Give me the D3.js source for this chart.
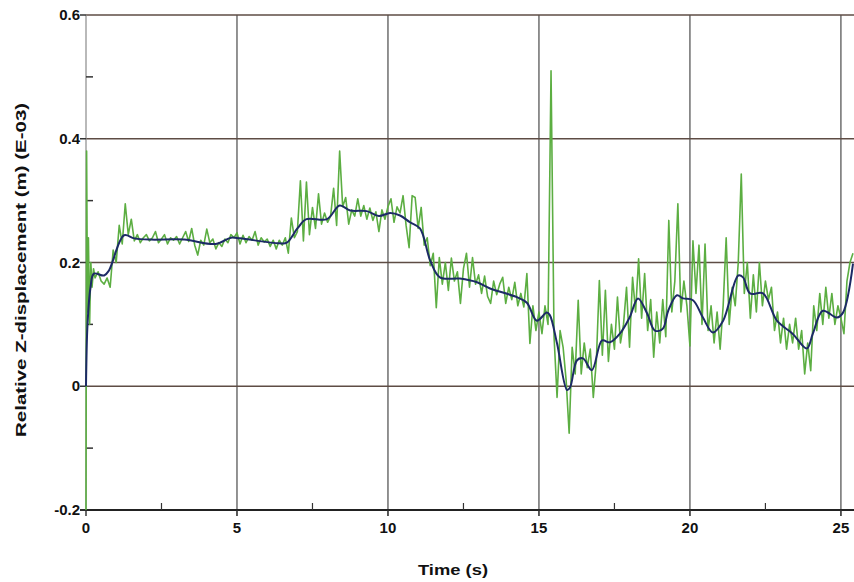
<!DOCTYPE html>
<html>
<head>
<meta charset="utf-8">
<script src="https://cdn.jsdelivr.net/npm/d3@7"></script>
<style>
  html, body { margin: 0; padding: 0; background: #fff; }
  svg { display: block; }
  text { font-family: "Liberation Sans", Arial, sans-serif; font-weight: bold; fill: #111; }
</style>
</head>
<body>
<svg id="chart" width="854" height="582"></svg>
<script>
// Time axis ticks (s) and displacement ticks (x 1E-03 m)
const xMajorTicks = [0, 5, 10, 15, 20, 25];
const xMinorTicks = [2.5, 7.5, 12.5, 17.5, 22.5];
const yMajorTicks = [0.6, 0.4, 0.2, 0, -0.2];
const yMinorTicks = [0.5, 0.3, 0.1, -0.1];
const yTickLabels = ["0.6", "0.4", "0.2", "0", "-0.2"];

// Raw signal: the first instants sampled irregularly ([t, value])
const rawHead = [[0, -0.2], [0.02, 0.38], [0.05, 0.12], [0.08, 0.24], [0.12, 0.1],
  [0.16, 0.2], [0.2, 0.16], [0.25, 0.19]];

// Raw signal from t = 0.3 s onwards, one value every 0.1 s
const rawStart = 0.3;
const rawStep = 0.1;
const rawValues = [
  0.175, 0.185, 0.17, 0.165, 0.175, 0.16, 0.22, 0.2, 0.26, 0.23,            // 0.3 - 1.2
  0.295, 0.245, 0.27, 0.235, 0.245, 0.232, 0.24, 0.245, 0.235, 0.24,        // 1.3 - 2.2
  0.25, 0.232, 0.238, 0.245, 0.23, 0.24, 0.236, 0.242, 0.23, 0.24,          // 2.3 - 3.2
  0.25, 0.234, 0.255, 0.228, 0.212, 0.236, 0.228, 0.254, 0.232, 0.238,      // 3.3 - 4.2
  0.222, 0.232, 0.226, 0.238, 0.232, 0.245, 0.24, 0.248, 0.23, 0.244,       // 4.3 - 5.2
  0.232, 0.242, 0.236, 0.25, 0.228, 0.24, 0.233, 0.238, 0.226, 0.236,       // 5.3 - 6.2
  0.222, 0.236, 0.228, 0.24, 0.215, 0.272, 0.24, 0.25, 0.332, 0.235,        // 6.3 - 7.2
  0.33, 0.245, 0.289, 0.255, 0.311, 0.262, 0.28, 0.265, 0.275, 0.32,        // 7.3 - 8.2
  0.26, 0.38, 0.29, 0.305, 0.262, 0.285, 0.275, 0.303, 0.275, 0.292,        // 8.3 - 9.2
  0.27, 0.288, 0.268, 0.282, 0.25, 0.285, 0.27, 0.29, 0.303, 0.265,         // 9.3 - 10.2
  0.29, 0.28, 0.308, 0.26, 0.224, 0.308, 0.305, 0.255, 0.289, 0.228,        // 10.3 - 11.2
  0.24, 0.195, 0.215, 0.127, 0.208, 0.165, 0.2, 0.155, 0.207, 0.17,         // 11.3 - 12.2
  0.185, 0.134, 0.19, 0.215, 0.16, 0.208, 0.165, 0.18, 0.15, 0.178,         // 12.3 - 13.2
  0.145, 0.134, 0.17, 0.148, 0.165, 0.176, 0.134, 0.16, 0.14, 0.168,        // 13.3 - 14.2
  0.13, 0.15, 0.128, 0.182, 0.069, 0.13, 0.09, 0.12, 0.085, 0.13,           // 14.3 - 15.2
  0.1, 0.51, 0.08, -0.018, 0.09, 0.063, 0.01, -0.076, 0.063, 0.02,          // 15.3 - 16.2
  0.139, 0.02, 0.07, 0.03, 0.06, -0.018, 0.04, 0.171, 0.05, 0.155,          // 16.3 - 17.2
  0.04, 0.1, 0.06, 0.144, 0.07, 0.1, 0.16, 0.063, 0.176, 0.12,              // 17.3 - 18.2
  0.206, 0.11, 0.182, 0.09, 0.14, 0.047, 0.12, 0.07, 0.14, 0.08,            // 18.3 - 19.2
  0.268, 0.12, 0.17, 0.295, 0.12, 0.17, 0.13, 0.065, 0.235, 0.15,           // 19.3 - 20.2
  0.228, 0.1, 0.23, 0.09, 0.13, 0.07, 0.12, 0.06, 0.13, 0.24,               // 20.3 - 21.2
  0.1, 0.16, 0.13, 0.2, 0.343, 0.15, 0.2, 0.11, 0.18, 0.12,                 // 21.3 - 22.2
  0.2, 0.13, 0.17, 0.14, 0.16, 0.09, 0.12, 0.07, 0.11, 0.06,                // 22.3 - 23.2
  0.1, 0.07, 0.11, 0.06, 0.09, 0.02, 0.07, 0.025, 0.13, 0.09,               // 23.3 - 24.2
  0.15, 0.1, 0.16, 0.11, 0.15, 0.1, 0.13, 0.11, 0.085, 0.17,                // 24.3 - 25.2
  0.2, 0.215                                                                // 25.3 - 25.4
];

// Smoothed signal ([t, value])
const smoothPoints = [
  [0, 0.0], [0.05, 0.1], [0.15, 0.16], [0.26, 0.182], [0.6, 0.179], [0.76, 0.187],
  [1.26, 0.244], [1.6, 0.239], [2.15, 0.237], [3.25, 0.237], [4.3, 0.23], [4.8, 0.24],
  [5.1, 0.239], [6.4, 0.231], [6.65, 0.232], [7.0, 0.255], [7.3, 0.27], [7.98, 0.27],
  [8.4, 0.292], [8.75, 0.284], [9.3, 0.283], [9.7, 0.275], [10.07, 0.28], [10.4, 0.276],
  [10.73, 0.265], [11.06, 0.255], [11.4, 0.203], [11.72, 0.176], [12.38, 0.174],
  [12.95, 0.168], [13.38, 0.158], [14.27, 0.144], [14.6, 0.135], [14.93, 0.106],
  [15.26, 0.119], [15.36, 0.115], [15.6, 0.069], [15.93, -0.006], [16.03, -0.002],
  [16.26, 0.042], [16.46, 0.045], [16.75, 0.026], [17.09, 0.074], [17.35, 0.071],
  [17.68, 0.085], [18.0, 0.111], [18.28, 0.142], [18.58, 0.118], [18.84, 0.09],
  [19.1, 0.093], [19.28, 0.122], [19.57, 0.147], [19.77, 0.142], [20.1, 0.139],
  [20.43, 0.111], [20.76, 0.087], [21.1, 0.106], [21.6, 0.179], [21.76, 0.176],
  [21.99, 0.15], [22.42, 0.15], [22.88, 0.106], [23.4, 0.085], [23.87, 0.061],
  [24.07, 0.085], [24.4, 0.122], [24.87, 0.111], [25.07, 0.119], [25.4, 0.198]
];

const svg = d3.select("#chart");
const x = d3.scaleLinear().domain([0, 25.4]).range([86, 853]);
const y = d3.scaleLinear().domain([-0.2, 0.6]).range([510, 15]);

// Vertical grid lines
svg.append("g").selectAll("line").data(xMajorTicks.filter(d => d > 0)).join("line")
  .attr("x1", d => x(d)).attr("x2", d => x(d))
  .attr("y1", y(0.6)).attr("y2", y(-0.2) + 6)
  .attr("stroke", "#4a4a4a").attr("stroke-width", 1.2);

// Horizontal grid lines
svg.append("g").selectAll("line").data(yMajorTicks.filter(d => d > -0.2)).join("line")
  .attr("x1", x(0)).attr("x2", 854)
  .attr("y1", d => y(d)).attr("y2", d => y(d))
  .attr("stroke", "#5e4c44").attr("stroke-width", 1.6);

// Left axis line
svg.append("line")
  .attr("x1", x(0)).attr("x2", x(0)).attr("y1", y(0.6)).attr("y2", y(-0.2) + 6)
  .attr("stroke", "#8a8a8a").attr("stroke-width", 1.2);

// Bottom axis line
svg.append("line")
  .attr("x1", x(0) - 6).attr("x2", 854).attr("y1", y(-0.2)).attr("y2", y(-0.2))
  .attr("stroke", "#222").attr("stroke-width", 2);

// Y major ticks and labels
svg.append("g").selectAll("line").data(yMajorTicks).join("line")
  .attr("x1", x(0) - 6).attr("x2", x(0))
  .attr("y1", d => y(d)).attr("y2", d => y(d))
  .attr("stroke", "#333").attr("stroke-width", 1.5);
svg.append("g").selectAll("text").data(yMajorTicks).join("text")
  .attr("x", x(0) - 6).attr("y", d => y(d) + 5)
  .attr("text-anchor", "end").attr("font-size", 15)
  .text((d, i) => yTickLabels[i]);

// Y minor ticks (inside)
svg.append("g").selectAll("line").data(yMinorTicks).join("line")
  .attr("x1", x(0)).attr("x2", x(0) + 7)
  .attr("y1", d => y(d)).attr("y2", d => y(d))
  .attr("stroke", "#333").attr("stroke-width", 1.5);

// X major ticks and labels
svg.append("g").selectAll("line").data(xMajorTicks).join("line")
  .attr("x1", d => x(d)).attr("x2", d => x(d))
  .attr("y1", y(-0.2)).attr("y2", y(-0.2) + 6)
  .attr("stroke", "#333").attr("stroke-width", 1.2);
svg.append("g").selectAll("text").data(xMajorTicks).join("text")
  .attr("x", d => x(d)).attr("y", y(-0.2) + 23)
  .attr("text-anchor", "middle").attr("font-size", 15)
  .text(d => d);

// X minor ticks (inside)
svg.append("g").selectAll("line").data(xMinorTicks).join("line")
  .attr("x1", d => x(d)).attr("x2", d => x(d))
  .attr("y1", y(-0.2)).attr("y2", y(-0.2) - 7)
  .attr("stroke", "#333").attr("stroke-width", 1.2);

// Raw signal
const rawSeries = rawHead.concat(rawValues.map((v, i) => [rawStart + i * rawStep, v]));
svg.append("path").datum(rawSeries)
  .attr("fill", "none").attr("stroke", "#5cae42").attr("stroke-width", 1.6)
  .attr("stroke-linejoin", "round")
  .attr("d", d3.line().x(d => x(d[0])).y(d => y(d[1])));

// Smoothed signal
svg.append("path").datum(smoothPoints)
  .attr("fill", "none").attr("stroke", "#1c2a66").attr("stroke-width", 2)
  .attr("d", d3.line().curve(d3.curveCatmullRom).x(d => x(d[0])).y(d => y(d[1])));

// Axis titles
svg.append("text").attr("x", 453).attr("y", 575)
  .attr("text-anchor", "middle").attr("font-size", 15)
  .attr("textLength", 70).attr("lengthAdjust", "spacingAndGlyphs")
  .text("Time (s)");
svg.append("text")
  .attr("transform", "translate(26," + y(0.188) + ") rotate(-90)")
  .attr("text-anchor", "middle").attr("font-size", 15)
  .attr("textLength", 334).attr("lengthAdjust", "spacingAndGlyphs")
  .text("Relative Z-displacement (m) (E-03)");
</script>
</body>
</html>
